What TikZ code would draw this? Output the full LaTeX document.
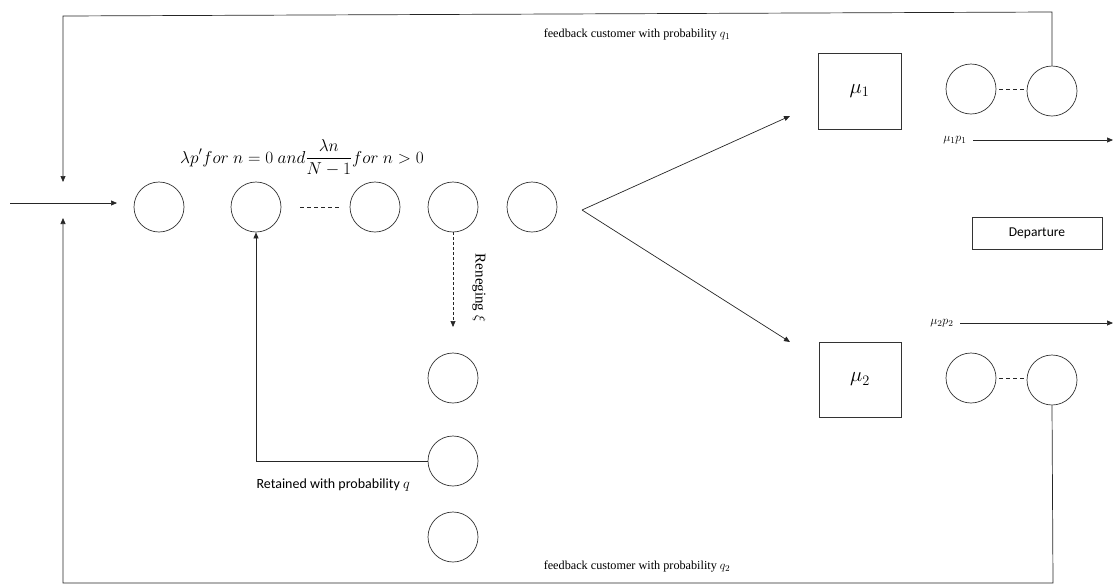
\documentclass[tikz,border=0pt]{standalone}
\usepackage{fontspec}
\setmainfont{Liberation Serif}
\newfontfamily\calib{Carlito}
\usetikzlibrary{arrows.meta}
\tikzset{
  queue/.style={draw, circle, minimum size=50pt, inner sep=0pt, line width=0.7pt, draw=black!80},
  server/.style={draw, rectangle, line width=0.7pt, draw=black!80, inner sep=0pt},
  conn/.style={line width=0.7pt, draw=black!85},
  arr/.style={conn, -{Triangle[length=6pt,width=5pt]}},
  serif/.style={font=\fontsize{12.2}{14}\selectfont},
  sans/.style={font=\calib\fontsize{14}{16}\selectfont},
  shortdash/.style={conn, dashed, dash pattern=on 4pt off 3pt},
}
\begin{document}
\begin{tikzpicture}[x=1pt,y=-1pt]
\useasboundingbox (0,0) rectangle (1114,587);
% main queue row
\node[queue] (q1) at (159,207) {};
\node[queue] (q2) at (256,207) {};
\node[queue] (q3) at (375,207) {};
\node[queue] (q4) at (453,207) {};
\node[queue] (q5) at (532,207) {};
\draw[shortdash] ([xshift=19pt]q2.east) -- ([xshift=-10pt]q3.west);
% reneging column
\node[queue] (r1) at (453,378) {};
\node[queue] (r2) at (453,461) {};
\node[queue] (r3) at (453,537) {};
\coordinate (rend) at (453,327);
\draw[arr, dashed, dash pattern=on 3pt off 2pt] (q4.south) -- (rend);
\node[font=\fontsize{15}{17}\selectfont, rotate=-90] (ren) at (479,288) {Reneging $\xi$};
% retained
\coordinate (rc) at (256,461);
\draw[arr] (r2.west) -- (rc) -- (q2.south);
\node[sans, anchor=base west] (ret) at (253,488) {Retained with probability $q$};
% arrival label
\node[anchor=base, font=\fontsize{17.5}{20}\selectfont] (lab) at (302,163)
  {$\displaystyle \lambda p' for\ n=0\ and \frac{\lambda n}{N-1} for\ n>0$};
% input
\coordinate (in) at (10,203);
\coordinate (inend) at (117,203);
\draw[arr] (in) -- (inend);
% fork
\coordinate (fork) at (582,210);
\coordinate (f1) at (790,116);
\coordinate (f2) at (790,342);
\draw[arr] (fork) -- (f1);
\draw[arr] (fork) -- (f2);
% servers
\node[server, minimum width=83pt, minimum height=76pt] (mu1) at (859.5,91) {\fontsize{22}{24}\selectfont$\mu_1$};
\node[server, minimum width=82pt, minimum height=75pt] (mu2) at (860,379.5) {\fontsize{22}{24}\selectfont$\mu_2$};
% server queues
\node[queue] (s1a) at (971,89) {};
\node[queue] (s1b) at (1052,91) {};
\node[queue] (s2a) at (971,378) {};
\node[queue] (s2b) at (1052,380) {};
\draw[shortdash] ([xshift=3pt]s1a.east) -- ([xshift=-3pt]s1a.east -| s1b.west);
\draw[shortdash] ([xshift=3pt]s2a.east) -- ([xshift=-3pt]s2a.east -| s2b.west);
% departures
\node[font=\fontsize{12.5}{14}\selectfont, anchor=east] (l1) at (970,140) {$\mu_1p_1$};
\coordinate (d1) at (1113,140);
\draw[arr] ([xshift=3pt]l1.east) -- (d1);
\node[font=\fontsize{12.5}{14}\selectfont, anchor=east] (l2) at (957,323) {$\mu_2p_2$};
\coordinate (d2) at (1113,323);
\draw[arr] ([xshift=3pt]l2.east) -- (d2);
\node[server, font=\calib\fontsize{13.5}{15}\selectfont, minimum width=130pt, minimum height=32pt] (dep) at (1037,233) {Departure};
% feedback top
\coordinate (t1) at (1052,12);
\coordinate (t2) at (63,16);
\coordinate (t3) at (63,182);
\draw[arr] (s1b.north) -- (t1) -- (t2) -- (t3);
\node[serif] (fb1) at (637,35) {feedback customer with probability $q_1$};
% feedback bottom
\coordinate (b1) at (1053,583);
\coordinate (b2) at (63,583);
\coordinate (b3) at (63,218);
\draw[arr] (s2b.south) -- (b1) -- (b2) -- (b3);
\node[serif] (fb2) at (637,567) {feedback customer with probability $q_2$};
\end{tikzpicture}
\end{document}
